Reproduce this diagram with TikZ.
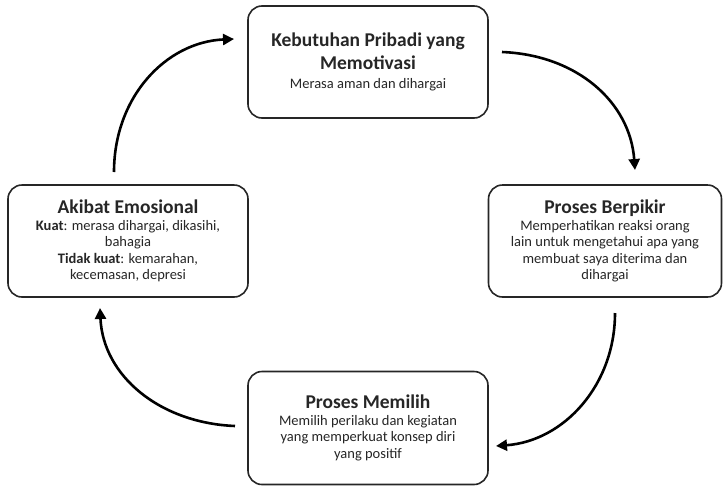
\documentclass[tikz,border=0pt]{standalone}
\usepackage{fontspec}
\setmainfont{Carlito}
\usepackage{tikz}
\usetikzlibrary{positioning, calc, arrows.meta}

\newcommand{\headfont}{\fontsize{19.5}{22}\selectfont\bfseries}
\newcommand{\bodyfont}{\fontsize{14.5}{16.5}\selectfont}

\begin{document}
\begin{tikzpicture}[x=1pt, y=-1pt,
    stagebox/.style={draw=black!85, line width=1.6pt, rounded corners=14pt, fill=white,
        minimum width=240pt, minimum height=112pt, align=center, inner sep=4pt,
        font=\bodyfont, text=black!85},
    flow/.style={line width=2.6pt, -{Triangle[length=11pt, width=11pt]}}]
        % Canvas
        \useasboundingbox (0,0) rectangle (723,488);

        % Draw the four stages
        \node[stagebox] (need) at (368,62) {\headfont Kebutuhan Pribadi yang\\[5pt]
            \headfont Memotivasi\\[2pt] Merasa aman dan dihargai};
        \node[stagebox, minimum width=233pt] (think) at (605,241) {\headfont Proses Berpikir\\
            Memperhatikan reaksi orang\\ lain untuk mengetahui apa yang\\
            membuat saya diterima dan\\ dihargai};
        \node[stagebox, minimum height=113pt] (choose) at (368,428) {\headfont Proses Memilih\\
            Memilih perilaku dan kegiatan\\ yang memperkuat konsep diri\\ yang positif};
        \node[stagebox] (feel) at (128,241) {\headfont Akibat Emosional\\
            \textbf{Kuat}: merasa dihargai, dikasihi,\\ bahagia\\
            \textbf{Tidak kuat}: kemarahan,\\ kecemasan, depresi};

        % Arrow ends
        \coordinate (a1s) at (502,52);  \coordinate (a1e) at (635,170);
        \coordinate (a2s) at (615,313); \coordinate (a2e) at (496,446);
        \coordinate (a3s) at (235,426); \coordinate (a3e) at (100,308);
        \coordinate (a4s) at (114,172); \coordinate (a4e) at (234,39);

        % Draw the cycle
        \draw[flow] (a1s) .. controls +(75,3) and +(-5,-68) .. (a1e);
        \draw[flow] (a2s) .. controls +(0,72) and +(68,-5) .. (a2e);
        \draw[flow] (a3s) .. controls +(-75,-3) and +(3,68) .. (a3e);
        \draw[flow] (a4s) .. controls +(0,-75) and +(-68,3) .. (a4e);
    \end{tikzpicture}
\end{document}
